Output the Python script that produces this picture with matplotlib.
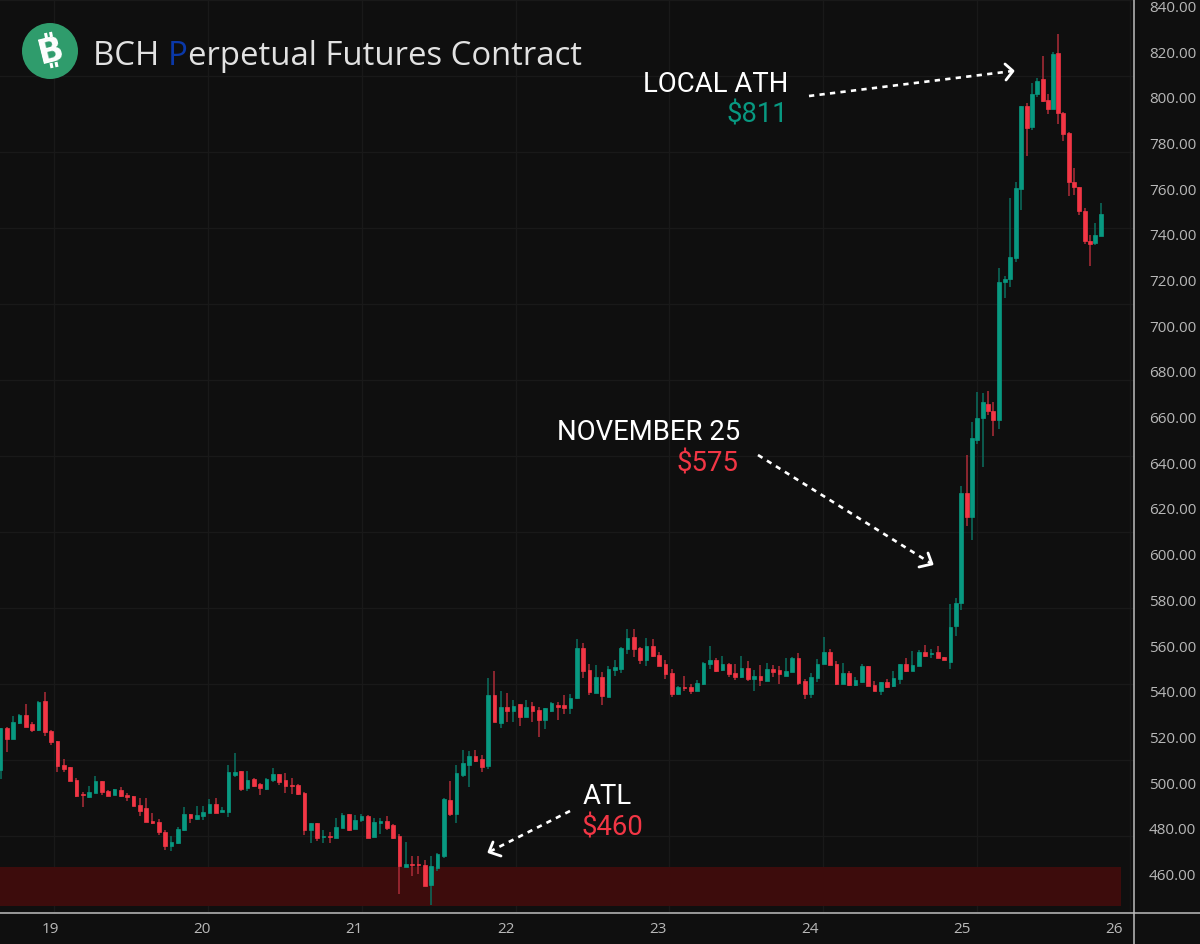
import matplotlib
matplotlib.use("Agg")
import matplotlib.pyplot as plt
from matplotlib.patches import Circle

W, H = 1200, 945

# Candle data (USD), one entry per bar
opens = [505.4,523.8,518.7,525.7,529.3,525.3,522.6,535.3,522.2,518.1,507.5,506.4,500.9,494.8,493.6,495.2,500.3,496.2,494.2,496.7,
         494.3,493.8,490.2,488.6,483.0,482.5,478.0,471.9,473.2,479.0,486.0,484.0,485.1,486.6,490.4,487.0,487.0,503.2,504.8,497.3,
         501.3,499.3,497.0,500.8,503.4,500.9,498.7,498.9,495.2,478.9,482.0,476.0,476.4,475.4,480.1,486.0,479.5,483.3,485.2,476.0,
         482.0,483.1,481.2,476.4,462.7,464.2,464.2,463.7,455.1,462.6,467.5,492.2,486.0,503.1,507.5,511.6,510.1,507.2,538.1,525.9,
         532.7,531.0,534.0,528.4,533.3,531.4,527.3,531.3,533.9,533.8,532.4,536.8,558.9,549.1,539.2,546.2,537.3,549.2,549.7,558.3,
         563.4,558.9,553.3,559.4,555.8,551.7,547.8,538.4,541.6,541.5,540.0,543.0,551.7,553.3,549.1,551.8,547.6,546.0,550.1,545.1,
         546.6,544.4,549.7,549.2,546.6,548.1,554.3,544.3,538.4,545.4,551.7,556.8,551.7,543.0,547.6,542.5,544.0,550.8,542.7,540.0,
         543.7,541.9,545.1,551.7,548.6,550.8,556.8,555.9,556.8,554.8,552.7,568.4,578.2,626.4,615.9,649.8,659.2,665.6,662.4,658.5,
         718.7,720.2,729.4,759.6,796.1,786.7,801.0,807.6,798.4,794.6,819.0,793.0,784.1,762.7,760.5,750.1,736.8,736.0,738.9]
highs = [523.7,524.1,528.8,529.8,534.4,526.1,535.3,539.3,522.6,518.1,510.1,506.4,501.8,495.8,498.3,502.8,500.3,496.7,497.1,497.8,
         495.3,493.8,493.0,493.2,486.4,483.7,479.0,476.2,480.5,489.1,486.0,489.7,489.7,492.6,493.0,489.1,507.3,512.6,504.8,504.8,
         501.8,499.5,501.7,506.0,503.7,504.0,501.8,499.3,495.5,482.0,482.0,478.9,478.3,484.1,486.5,486.0,485.6,486.0,485.6,484.1,
         484.1,485.0,481.5,477.4,473.9,467.8,467.8,465.8,467.8,468.8,493.2,500.5,507.5,514.1,513.5,514.1,511.9,545.4,548.6,540.0,
         539.0,536.0,534.3,535.9,534.9,532.7,532.6,534.9,534.9,538.0,538.4,562.5,560.9,551.6,551.3,548.1,550.7,553.6,559.3,567.0,
         567.0,559.3,562.9,562.5,556.8,553.3,549.5,541.9,546.6,543.1,544.7,552.7,559.4,554.3,555.4,552.3,551.7,555.4,552.9,549.2,
         551.3,552.3,551.3,550.8,554.3,554.9,556.5,545.1,547.6,553.7,563.5,558.3,553.2,552.3,548.6,546.2,551.7,550.8,544.1,543.7,
         545.0,548.6,551.7,554.3,557.4,557.8,559.9,558.3,559.4,554.8,577.9,580.4,629.4,643.1,657.7,670.6,670.3,671.0,666.5,724.9,
         721.7,755.5,762.5,796.1,797.2,806.0,808.3,817.7,801.3,819.7,827.3,793.4,784.4,768.8,760.5,751.1,739.5,744.7,753.3]
lows = [501.3,513.0,518.7,525.4,524.0,522.0,522.3,520.3,516.2,504.5,504.5,500.3,493.6,489.1,493.2,495.2,494.2,493.8,494.2,493.5,
        491.7,489.5,485.1,482.5,481.5,476.8,470.3,469.8,472.9,478.7,482.1,483.5,483.5,486.6,486.6,487.0,484.6,502.3,496.2,496.2,
        498.0,494.4,496.5,499.9,498.7,495.2,494.8,494.4,476.9,473.4,474.2,473.4,473.4,475.4,480.1,478.7,479.5,482.7,475.7,476.0,
        477.4,479.2,475.0,451.0,462.7,459.0,459.8,454.5,446.4,461.2,466.6,485.0,482.0,502.4,497.7,509.0,504.4,505.7,526.5,523.8,
        526.5,526.5,524.4,528.4,526.5,519.8,523.4,530.8,527.3,529.8,529.8,536.4,545.6,538.0,539.2,533.9,537.3,546.6,547.8,556.2,
        554.9,551.8,550.8,554.9,550.8,545.1,537.4,538.0,539.9,538.4,540.0,542.7,549.5,548.1,548.5,546.2,544.8,545.4,544.1,540.0,
        542.1,544.1,546.0,543.1,546.6,548.1,542.5,536.4,537.0,544.0,551.7,551.3,542.5,543.0,542.1,542.1,543.5,542.1,540.0,538.0,
        541.0,541.6,543.1,548.2,548.6,550.8,554.9,554.3,554.3,553.3,549.5,564.1,575.3,612.2,606.1,648.0,638.0,660.8,651.6,654.5,
        711.7,716.8,727.8,750.5,774.2,785.6,799.9,797.5,792.4,794.6,788.2,780.7,756.7,757.1,748.2,735.5,725.7,735.1,738.9]
closes = [523.7,518.7,526.3,529.3,524.2,522.6,534.9,521.8,517.5,506.9,505.9,500.6,494.0,494.2,495.6,500.3,495.8,494.0,496.8,493.8,
          493.6,489.7,487.5,482.5,481.9,478.0,471.9,473.8,479.4,486.0,484.1,485.6,487.0,490.4,486.6,487.6,504.3,504.3,497.0,500.8,
          498.4,497.3,501.4,503.4,500.2,498.3,498.3,494.7,478.9,482.0,475.4,476.4,476.0,480.4,485.8,479.2,483.6,485.2,475.7,482.7,
          483.1,479.9,475.5,463.3,464.0,463.7,463.7,454.5,463.3,468.4,492.6,485.9,504.0,508.4,511.6,509.4,506.8,538.1,526.5,532.9,
          531.3,533.2,528.4,532.9,531.3,527.3,532.6,534.5,532.9,532.4,537.0,558.9,548.8,539.4,546.0,537.6,549.7,550.2,558.9,562.9,
          558.4,553.3,559.7,555.4,550.8,547.3,538.4,541.6,541.0,540.0,543.4,552.3,553.3,548.5,551.7,547.2,546.0,550.1,545.1,546.6,
          544.6,549.5,548.1,547.2,548.8,554.3,543.4,538.4,546.0,551.7,556.8,551.3,543.0,547.6,542.5,544.7,550.8,542.1,540.0,543.7,
          541.6,545.6,551.7,548.6,551.3,556.8,555.4,556.4,554.3,553.3,568.1,578.6,626.4,615.9,650.4,659.2,666.2,662.5,658.5,719.0,
          720.2,729.8,759.9,796.1,786.1,801.3,806.9,798.1,794.6,818.7,792.9,783.8,762.5,760.6,750.1,736.8,735.5,739.3,748.6]
# Horizontal position of each bar, in bar units (bars tighten after the 25th starts)
bar_pos = list(range(151)) + [150.83,151.66,152.57,153.4,154.24,155.1,155.93,156.77,157.62,158.61,159.45,160.3,161.14,
                              162.03,162.87,163.71,164.56,165.4,166.24,166.98,167.82,168.67,169.5,170.34,171.19,172.03,
                              172.87,173.72]
day_labels = ["19", "20", "21", "22", "23", "24", "25", "26"]
day_pos = [7.82, 31.82, 55.82, 79.82, 103.82, 127.82, 151.82, 175.82]
price_ticks = list(range(460, 841, 20))
atl_zone = (445.8, 462.8)

BG = "#0f0f0f"
GREEN = "#089981"
RED = "#f23645"
GREEN_W = "#0a6f5f"
RED_W = "#ad2c38"
GRID = "#191919"
AXC = "#bdbdbd"
TXT = "#b8b8b8"

fig = plt.figure(figsize=(W / 100, H / 100), dpi=100, facecolor=BG)
AX_W, AX_H = 1133.5, 914
ax = fig.add_axes([0, 1 - AX_H / H, AX_W / W, AX_H / H], facecolor=BG)

PPU = 2.2847
BARPX = 6.3333
px2price = lambda y: 460 + (874.5 - y) / PPU
px2bar = lambda x: (x - 0.5) / BARPX
ax.set_xlim(px2bar(0), px2bar(AX_W))
ax.set_ylim(px2price(AX_H), px2price(0))

for y in range(1, 914, 76):
    ax.axhline(px2price(y), color=GRID, lw=1, zorder=0)
for x in [54, 208, 362, 516, 669.5, 823, 977, 1130]:
    ax.axvline(px2bar(x), color=GRID, lw=1, zorder=0)

ax.axhspan(atl_zone[0], atl_zone[1], xmin=0, xmax=1120.7 / AX_W, color="#3d0c0c", lw=0, zorder=1)

colors = [GREEN if c >= o else RED for o, c in zip(opens, closes)]
wick_colors = [GREEN_W if c >= o else RED_W for o, c in zip(opens, closes)]
ax.vlines(bar_pos, lows, highs, colors=wick_colors, lw=1.1, zorder=2)
bottoms = [min(o, c) for o, c in zip(opens, closes)]
heights = [abs(o - c) for o, c in zip(opens, closes)]
ax.bar(bar_pos, heights, bottom=bottoms, width=0.6, color=colors, edgecolor=colors, lw=0.5, zorder=3)

for s in ax.spines.values():
    s.set_visible(False)
ax.yaxis.tick_right()
ax.set_yticks(price_ticks)
ax.set_yticklabels([f"{p:.2f}" for p in price_ticks], fontsize=11, color=TXT, family="Open Sans")
ax.tick_params(axis="y", length=0, pad=11)
ax.set_xticks(day_pos)
ax.set_xticklabels(day_labels, fontsize=11, color=TXT, family="Open Sans")
ax.tick_params(axis="x", length=0, pad=6)

# Overlay in pixel coordinates for annotations and frame
ov = fig.add_axes([0, 0, 1, 1], facecolor="none")
ov.set_xlim(0, W)
ov.set_ylim(H, 0)
ov.axis("off")
ov.plot([0, W], [914, 914], color=AXC, lw=1.1, zorder=5)
ov.plot([1133.7, 1133.7], [0, H], color=AXC, lw=1.1, zorder=5)

# Logo
ov.add_patch(Circle((50, 52), 28, color="#2f9c6c", lw=0, zorder=6))
ov.text(51, 51.5, "B", color="white", fontsize=24, fontweight="bold", family="DejaVu Sans",
        rotation=14, ha="center", va="center", zorder=7)
for (x0, y0, x1, y1) in [(45.5, 34, 46.5, 39), (50.5, 33, 51.5, 38), (51, 64, 52, 69), (56, 63, 57, 68)]:
    ov.plot([x0, x1], [y0, y1], color="white", lw=2.2, solid_capstyle="butt", zorder=7)

# Title with coloured P
fig.canvas.draw()
rend = fig.canvas.get_renderer()
tx = 93
for part, col in [("BCH ", "#e2e2e2"), ("P", "#0a38a8"), ("erpetual Futures Contract", "#e2e2e2")]:
    t = ov.text(tx, 65, part, color=col, fontsize=23.7, family="Open Sans", ha="left", va="baseline", zorder=7)
    w, _, _ = rend.get_text_width_height_descent(part, t.get_fontproperties(), False)
    tx += w

# Annotation labels
LBL = dict(family="Roboto", fontsize=19.8, zorder=7)
ov.text(788, 84, "LOCAL ATH", color="white", ha="right", va="center", **LBL)
ov.text(788, 115, "$811", color=GREEN, ha="right", va="center", **LBL)
ov.text(740, 433, "NOVEMBER 25", color="white", ha="right", va="center", **LBL)
ov.text(739, 464, "$575", color=RED, ha="right", va="center", **LBL)
ov.text(607, 797, "ATL", color="white", ha="center", va="center", **LBL)
ov.text(612.5, 828, "$460", color=RED, ha="center", va="center", **LBL)

# Dotted arrows with open heads
def arrow(x0, y0, x1, y1, head):
    ov.plot([x0, x1], [y0, y1], color="white", lw=1.9, ls=(0, (2.0, 2.0)), zorder=7)
    ov.plot([head[0], x1, head[2]], [head[1], y1, head[3]], color="white", lw=2.0,
            solid_joinstyle="round", solid_capstyle="round", zorder=7)

arrow(809, 97, 1013, 72, (1005, 65, 1006, 81))
arrow(758, 456, 932, 565, (919, 568, 928, 554))
arrow(570, 812, 489, 853, (493, 843, 501, 857))

fig.savefig("out.png", dpi=100, facecolor=BG)
